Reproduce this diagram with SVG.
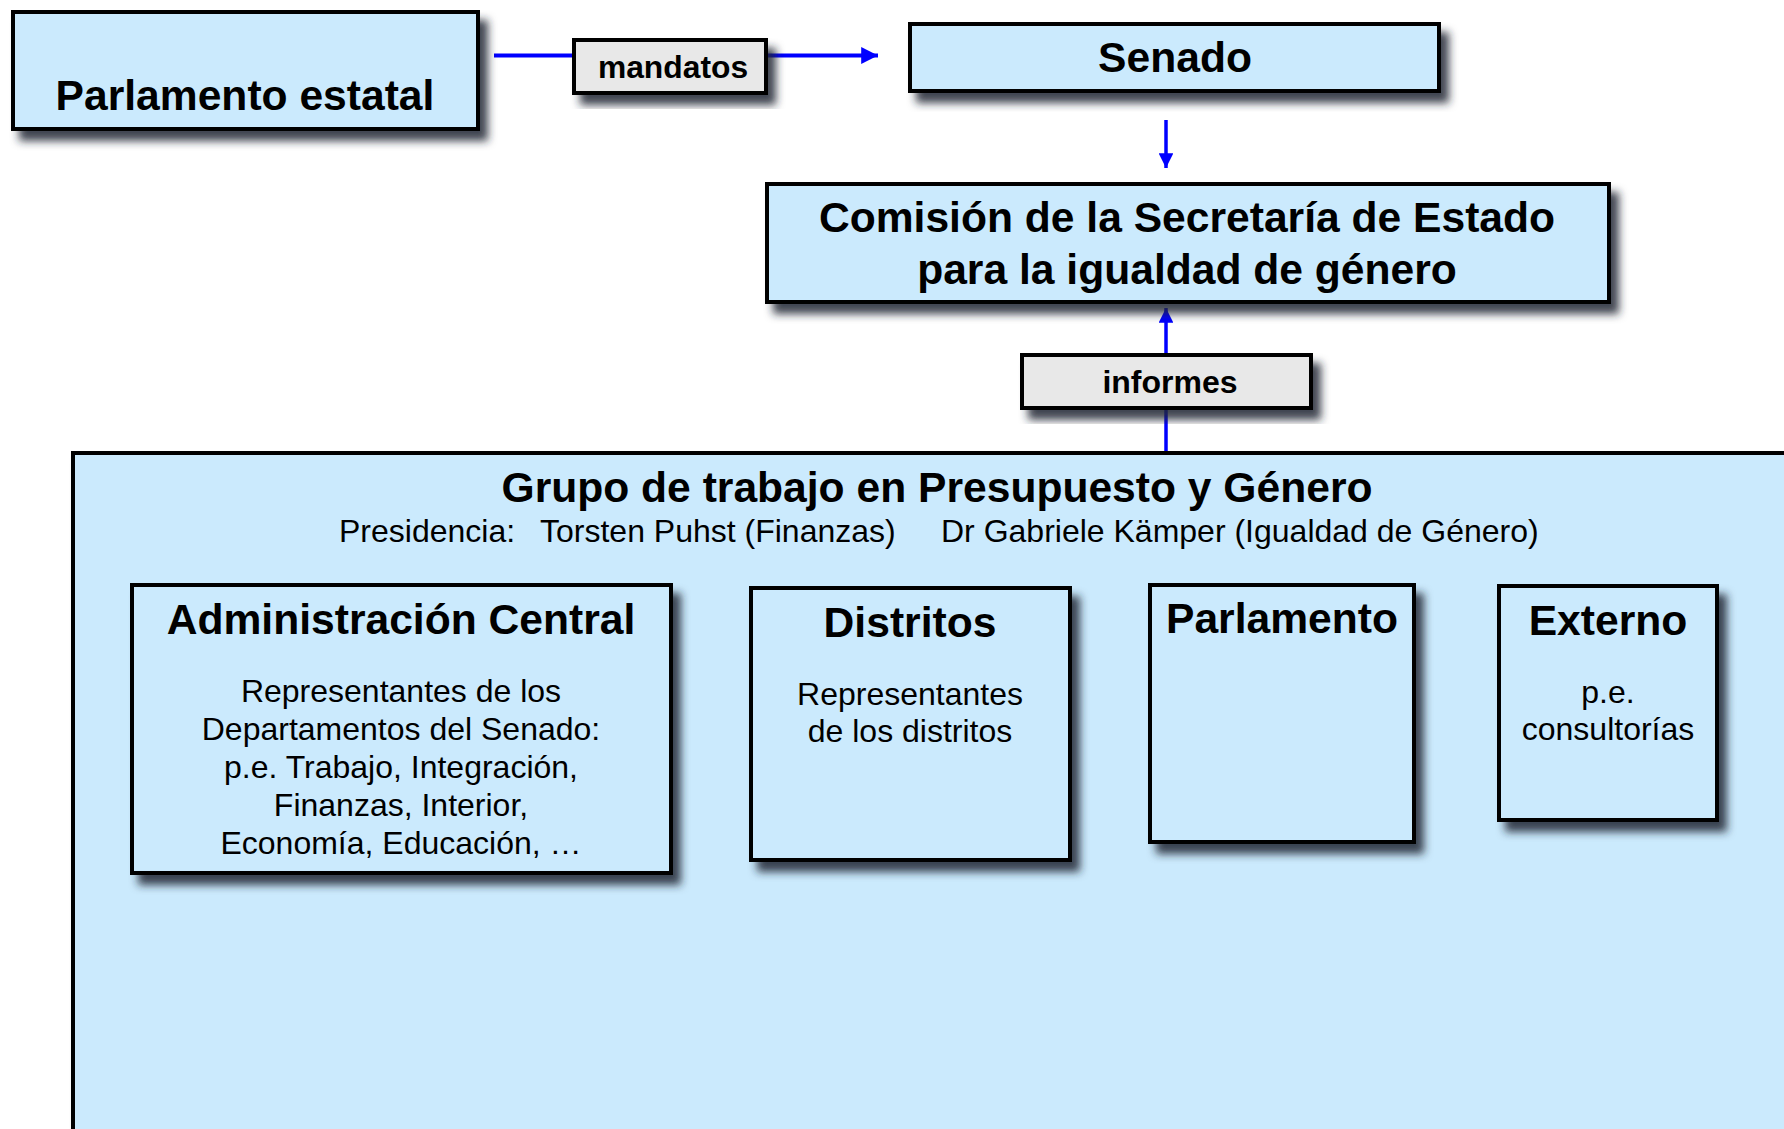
<svg xmlns="http://www.w3.org/2000/svg" width="1784" height="1129" viewBox="0 0 1784 1129">
<defs>
<filter id="sh" x="-10%" y="-10%" width="130%" height="140%">
<feDropShadow dx="8" dy="10" stdDeviation="4" flood-color="#1e2830" flood-opacity="0.85"/>
</filter>
<marker id="ah" viewBox="0 0 10 10" refX="10" refY="5" markerWidth="4.2" markerHeight="4.2" markerUnits="strokeWidth" orient="auto">
<path d="M0,0 L10,5 L0,10 z" fill="#0000ff"/>
</marker>
</defs>
<style>
.box{fill:#cbeafd;stroke:#000;stroke-width:4}
.lbl{fill:#e8e8e8;stroke:#000;stroke-width:4}
.t{font-family:"Liberation Sans",Arial,sans-serif;fill:#000;text-anchor:middle}
.s{text-anchor:start}
.b{font-weight:bold}
.h{font-size:42.6px}
.r{font-size:32px}
.c{fill:none;stroke:#0000ff}
</style>
<rect width="1784" height="1129" fill="#fff"/>
<g id="connectors">
<line class="c" x1="494" y1="55.5" x2="878" y2="55.5" stroke-width="4" marker-end="url(#ah)"/>
<line class="c" x1="1166" y1="120" x2="1166" y2="168" stroke-width="3.5" marker-end="url(#ah)"/>
<line class="c" x1="1166" y1="452" x2="1166" y2="308" stroke-width="3.5" marker-end="url(#ah)"/>
</g>
<g id="grupo">
<rect class="box" x="73" y="453" width="1740" height="720" stroke-width="3.5" filter="url(#sh)"/>
<text class="t b h" x="937" y="502">Grupo de trabajo en Presupuesto y Género</text>
<text class="t s r" x="339" y="542">Presidencia:</text>
<text class="t s r" x="540" y="542">Torsten Puhst (Finanzas)</text>
<text class="t s r" x="941" y="542">Dr Gabriele Kämper (Igualdad de Género)</text>
</g>
<g id="parlamento-estatal">
<rect class="box" x="13" y="12" width="465" height="117" filter="url(#sh)"/>
<text class="t b h" x="245" y="110">Parlamento estatal</text>
</g>
<g id="mandatos">
<rect class="lbl" x="574" y="40" width="192" height="53" filter="url(#sh)"/>
<text class="t b" x="673" y="78" font-size="31.8">mandatos</text>
</g>
<g id="senado">
<rect class="box" x="910" y="24" width="529" height="67" filter="url(#sh)"/>
<text class="t b h" x="1175" y="72">Senado</text>
</g>
<g id="comision">
<rect class="box" x="767" y="184" width="842" height="118" filter="url(#sh)"/>
<text class="t b h" x="1187" y="232">Comisión de la Secretaría de Estado</text>
<text class="t b h" x="1187" y="284">para la igualdad de género</text>
</g>
<g id="informes">
<rect class="lbl" x="1022" y="355" width="289" height="53" filter="url(#sh)"/>
<text class="t b" x="1170" y="393" font-size="32">informes</text>
</g>
<g id="administracion-central">
<rect class="box" x="132" y="585" width="539" height="288" filter="url(#sh)"/>
<text class="t b h" x="401" y="634">Administración Central</text>
<text class="t r" x="401" y="702">Representantes de los</text>
<text class="t r" x="401" y="740">Departamentos del Senado:</text>
<text class="t r" x="401" y="778">p.e. Trabajo, Integración,</text>
<text class="t r" x="401" y="816">Finanzas, Interior,</text>
<text class="t r" x="401" y="854">Economía, Educación, …</text>
</g>
<g id="distritos">
<rect class="box" x="751" y="588" width="319" height="272" filter="url(#sh)"/>
<text class="t b h" x="910" y="637">Distritos</text>
<text class="t r" x="910" y="705">Representantes</text>
<text class="t r" x="910" y="742">de los distritos</text>
</g>
<g id="parlamento">
<rect class="box" x="1150" y="585" width="264" height="257" filter="url(#sh)"/>
<text class="t b h" x="1282" y="633">Parlamento</text>
</g>
<g id="externo">
<rect class="box" x="1499" y="586" width="218" height="234" filter="url(#sh)"/>
<text class="t b h" x="1608" y="635">Externo</text>
<text class="t r" x="1608" y="703">p.e.</text>
<text class="t r" x="1608" y="740">consultorías</text>
</g>
</svg>
